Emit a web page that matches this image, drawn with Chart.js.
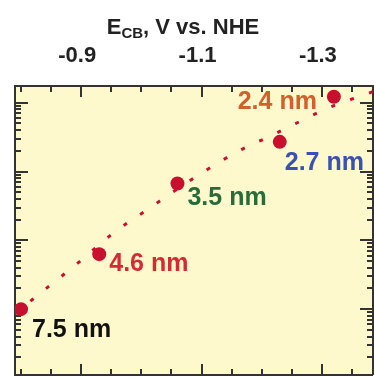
<!DOCTYPE html>
<html>
<head>
<meta charset="utf-8">
<script src="https://cdn.jsdelivr.net/npm/chart.js@4"></script>
<style>
  html, body { margin: 0; padding: 0; background: #fff; overflow: hidden; }
  #wrap { width: 380px; height: 382px; }
</style>
</head>
<body>
<div id="wrap"><canvas id="myChart" width="380" height="382"></canvas></div>
<script>
// Data
const sizes = ["7.5 nm", "4.6 nm", "3.5 nm", "2.7 nm", "2.4 nm"];
const ecb = [-0.80, -0.93, -1.06, -1.23, -1.32];
const rate = [1.0e8, 6.3e8, 6.7e9, 2.7e10, 1.22e11];
const sizeColors = ["#111111", "#d42a34", "#2b6b3a", "#3b50b4", "#d0602c"];

// dotted fit curve
const fitX = [-0.79, -0.819, -0.90, -0.951, -1.012, -1.081, -1.16, -1.213, -1.264, -1.315, -1.369, -1.385];
const fitY = [8.51e7, 1.38e8, 5.13e8, 1.23e9, 2.88e9, 7.41e9, 1.95e10, 3.24e10, 5.37e10, 8.71e10, 1.29e11, 1.45e11];

// axis ticks
const xTicks = [-0.8, -0.85, -0.9, -0.95, -1.0, -1.05, -1.1, -1.15, -1.2, -1.25, -1.3, -1.35];
const xLabels = [-0.9, -1.1, -1.3];
const yDecades = [1e7, 1e8, 1e9, 1e10, 1e11];

const FONT = '"Liberation Sans", Arial, sans-serif';
const INK = "#333";
const DOT = "#c8102e";

// label offsets from each dot (px)
const labelOffsets = [[11, 21, "left"], [10, 10, "left"], [10, 15, "left"], [5, 21, "left"], [-17, 5, "right"]];

const isMajorX = v => xLabels.some(m => Math.abs(m - v) < 1e-6);

const framePlugin = {
  id: "frame",
  beforeDraw(chart) {
    const { ctx, chartArea: a } = chart;
    ctx.save();
    ctx.fillStyle = "#fdf9cc";
    ctx.fillRect(a.left, a.top, a.right - a.left, a.bottom - a.top);
    ctx.restore();
  },
  beforeDatasetsDraw(chart) {
    const { ctx, chartArea: a, scales } = chart;
    ctx.save();
    ctx.strokeStyle = INK;
    ctx.lineWidth = 2;
    ctx.beginPath();
    // x ticks, inward from top and bottom
    xTicks.forEach(v => {
      const px = Math.round(scales.x.getPixelForValue(v));
      const len = isMajorX(v) ? 11 : 6;
      ctx.moveTo(px, a.top); ctx.lineTo(px, a.top + len);
      ctx.moveTo(px, a.bottom); ctx.lineTo(px, a.bottom - len);
    });
    // y ticks, log, inward from left and right
    yDecades.forEach(d => {
      for (let m = 1; m <= 9; m++) {
        const v = d * m;
        if (v < scales.y.min || v > scales.y.max) continue;
        const py = Math.round(scales.y.getPixelForValue(v));
        const len = m === 1 ? 13 : 6;
        ctx.moveTo(a.left, py); ctx.lineTo(a.left + len, py);
        ctx.moveTo(a.right, py); ctx.lineTo(a.right - len, py);
      }
    });
    ctx.moveTo(a.right, a.top); ctx.lineTo(a.right, a.bottom);
    ctx.moveTo(a.left, a.bottom); ctx.lineTo(a.right, a.bottom);
    ctx.stroke();
    ctx.restore();
  },
  afterDraw(chart) {
    const { ctx, scales } = chart;
    ctx.save();
    // size labels
    ctx.font = "bold 25px " + FONT;
    ctx.textBaseline = "middle";
    sizes.forEach((s, i) => {
      const px = scales.x.getPixelForValue(ecb[i]);
      const py = scales.y.getPixelForValue(rate[i]);
      const [dx, dy, al] = labelOffsets[i];
      ctx.fillStyle = sizeColors[i];
      ctx.textAlign = al;
      ctx.fillText(s, px + dx, py + dy);
    });
    // axis title with subscript
    ctx.fillStyle = "#222";
    ctx.textAlign = "left";
    ctx.textBaseline = "alphabetic";
    const big = "bold 22px " + FONT, small = "bold 15px " + FONT;
    ctx.font = big; const wE = ctx.measureText("E").width;
    const rest = ", V vs. NHE"; const wR = ctx.measureText(rest).width;
    ctx.font = small; const wS = ctx.measureText("CB").width;
    let x0 = 183 - (wE + wS + wR) / 2;
    const base = 34;
    ctx.font = big; ctx.fillText("E", x0, base);
    ctx.font = small; ctx.fillText("CB", x0 + wE, base + 4);
    ctx.font = big; ctx.fillText(rest, x0 + wE + wS, base);
    ctx.restore();
  }
};

new Chart(document.getElementById("myChart"), {
  data: {
    datasets: [
      {
        type: "scatter",
        data: ecb.map((x, i) => ({ x, y: rate[i] })),
        backgroundColor: DOT,
        borderWidth: 0,
        pointRadius: 7,
        order: 1
      },
      {
        type: "line",
        data: fitX.map((x, i) => ({ x, y: fitY[i] })),
        borderColor: DOT,
        borderWidth: 3,
        borderDash: [4, 16],
        borderCapStyle: "butt",
        pointRadius: 0,
        cubicInterpolationMode: "monotone",
        fill: false,
        order: 2
      }
    ]
  },
  options: {
    responsive: false,
    animation: false,
    events: [],
    layout: { padding: { left: 0, top: 0, right: 3, bottom: 2 } },
    plugins: { legend: { display: false }, tooltip: { enabled: false } },
    scales: {
      x: {
        type: "linear",
        position: "top",
        reverse: true,
        min: -1.385,
        max: -0.79,
        afterBuildTicks: s => { s.ticks = xTicks.map(v => ({ value: v })); },
        afterFit: s => { s.height = 86; },
        grid: { display: false },
        border: { display: true, color: INK, width: 2 },
        ticks: {
          autoSkip: false,
          maxRotation: 0,
          padding: 9,
          labelOffset: -4,
          color: "#222",
          font: { family: FONT, size: 22, weight: "bold" },
          callback: v => isMajorX(v) ? v.toFixed(1) : ""
        }
      },
      y: {
        type: "logarithmic",
        position: "left",
        min: 1.104e7,
        max: 1.75e11,
        afterFit: s => { s.width = 15; },
        grid: { display: false },
        border: { display: true, color: INK, width: 2 },
        ticks: { display: false }
      }
    }
  },
  plugins: [framePlugin]
});
</script>
</body>
</html>
